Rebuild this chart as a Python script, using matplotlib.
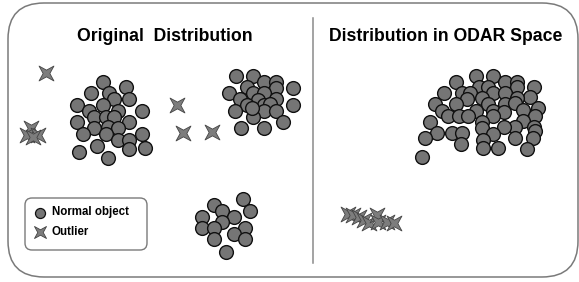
import numpy as np
import matplotlib.pyplot as plt
from matplotlib.patches import FancyBboxPatch
from matplotlib.path import Path

# point positions (pixel coordinates, y down)
orig_normal_x = [103, 126, 91, 109, 114, 129, 77, 103, 89, 118, 142, 94, 106, 114, 77, 129,
                 94, 108, 118, 83, 106, 142, 118, 129, 97, 129, 145, 79, 108,
                 236, 253, 264, 276, 247, 276, 293, 229, 253, 264, 240, 276, 258, 293,
                 247, 264, 270, 235, 264, 276, 253, 283, 241, 264, 252,
                 243, 214, 222, 250, 202, 234, 222, 202, 214, 245, 234, 214, 245, 226]
orig_normal_y = [82, 87, 93, 93, 99, 99, 105, 105, 111, 111, 111, 117, 117, 117, 122, 122,
                 128, 127, 128, 134, 134, 134, 140, 140, 146, 149, 148, 152, 158,
                 76, 76, 82, 82, 87, 88, 88, 93, 93, 93, 99, 99, 100, 105,
                 105, 105, 104, 111, 111, 111, 117, 122, 128, 128, 108,
                 199, 205, 211, 211, 217, 217, 222, 228, 228, 228, 234, 239, 239, 252]
orig_outlier_x = [46, 31, 27, 38, 33, 177, 183, 212]
orig_outlier_y = [73, 128, 135, 135, 137, 105, 133, 132]

odar_normal_x = [476, 493, 456, 505, 517, 479, 488, 517, 534, 444, 462, 470, 493, 505, 530,
                 482, 467, 517, 435, 456, 488, 505, 515, 538, 442, 476, 493, 523, 504,
                 448, 459, 468, 493, 535, 523, 430, 482, 515, 504, 534, 437, 452, 462,
                 482, 493, 535, 425, 483, 515, 533, 461, 483, 498, 527, 422]
odar_normal_y = [76, 76, 82, 82, 82, 87, 87, 87, 87, 93, 93, 93, 93, 93, 97,
                 98, 99, 98, 104, 104, 104, 104, 103, 108, 111, 111, 111, 110, 112,
                 116, 116, 116, 116, 116, 121, 122, 122, 127, 127, 127, 133, 133, 133,
                 128, 134, 131, 138, 140, 138, 138, 144, 148, 148, 149, 157]
odar_outlier_x = [348, 353, 359, 364, 369, 377, 378, 387, 394]
odar_outlier_y = [214, 215, 217, 220, 223, 215, 222, 222, 223]

titles = ['Original  Distribution', 'Distribution in ODAR Space']
legend_labels = ['Normal object', 'Outlier']

# thin four-pointed star, points on the diagonals
ang = np.deg2rad(np.arange(8) * 45 + 45)
rad = np.where(np.arange(8) % 2 == 0, 1.0, 0.32)
star = Path(np.column_stack([rad * np.cos(ang), rad * np.sin(ang)]).tolist() + [[0, 0]],
            [Path.MOVETO] + [Path.LINETO] * 7 + [Path.CLOSEPOLY])

plt.rcParams['font.family'] = ['Liberation Sans', 'DejaVu Sans']

fig = plt.figure(figsize=(5.79, 2.82), dpi=100)
ax = fig.add_axes([0, 0, 1, 1])
ax.set_xlim(0, 579)
ax.set_ylim(282, 0)
ax.axis('off')

frame = FancyBboxPatch((8, 3), 570, 274, boxstyle='round,pad=0,rounding_size=36',
                       fc='white', ec='#7a7a7a', lw=1.1)
ax.add_patch(frame)
ax.plot([313, 313], [18, 263], color='#8a8a8a', lw=1.1)

circ_style = dict(s=98, c='#757575', edgecolors='#111111', linewidths=1.0, zorder=3)
star_style = dict(s=115, marker=star, c='#7d7d7d', edgecolors='#444444', linewidths=0.6, zorder=3)

ax.scatter(orig_normal_x, orig_normal_y, **circ_style)
ax.scatter(orig_outlier_x, orig_outlier_y, **star_style)
ax.scatter(odar_normal_x, odar_normal_y, **circ_style)
ax.scatter(odar_outlier_x, odar_outlier_y, **star_style)

ax.text(165, 41, titles[0], ha='center', va='baseline', fontsize=12.7, fontweight='bold')
ax.text(446, 41, titles[1], ha='center', va='baseline', fontsize=12.7, fontweight='bold')

# legend box
leg = FancyBboxPatch((25, 198), 122, 52, boxstyle='round,pad=0,rounding_size=7',
                     fc='white', ec='#7a7a7a', lw=1.0, zorder=2)
ax.add_patch(leg)
ax.scatter([39.5], [212.5], s=52, c='#757575', edgecolors='#111111', linewidths=0.9, zorder=3)
ax.scatter([39.5], [232], s=75, marker=star, c='#7d7d7d', edgecolors='#444444',
           linewidths=0.6, zorder=3)
ax.text(51.5, 212.5, legend_labels[0], va='center', fontsize=8.3, fontweight='bold')
ax.text(51.5, 232, legend_labels[1], va='center', fontsize=8.3, fontweight='bold')

fig.savefig('out.png', dpi=100)
